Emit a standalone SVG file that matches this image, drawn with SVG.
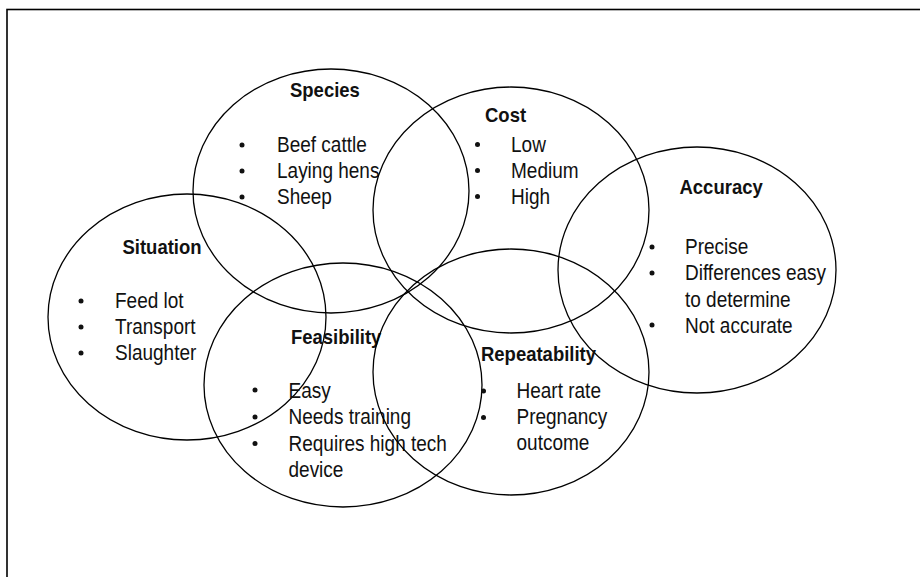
<svg xmlns="http://www.w3.org/2000/svg" width="920" height="577" viewBox="0 0 920 577">
<style>
.c{fill:none;stroke:#000;stroke-width:1.3}
.t{font-family:"Liberation Sans",Arial,sans-serif;font-size:19px;fill:#111}
.h{font-family:"Liberation Sans",Arial,sans-serif;font-size:18.5px;font-weight:bold;fill:#111}
.b{fill:#111}
</style>
<rect x="0" y="0" width="920" height="577" fill="#fff"/>
<rect x="7" y="9.5" width="1000" height="1000" fill="none" stroke="#000" stroke-width="1.6"/>
<g id="species">
<ellipse class="c" cx="331" cy="191" rx="138" ry="122"/>
<text class="h" transform="translate(290,97) scale(1,1.13)">Species</text>
<circle class="b" cx="242" cy="145" r="2.5"/><circle class="b" cx="242" cy="171" r="2.5"/><circle class="b" cx="242" cy="197" r="2.5"/>
<text class="t" transform="translate(277,152) scale(1,1.13)">Beef cattle</text>
<text class="t" transform="translate(277,178) scale(1,1.13)">Laying hens</text>
<text class="t" transform="translate(277,204) scale(1,1.13)">Sheep</text>
</g>
<g id="cost">
<ellipse class="c" cx="511" cy="210" rx="138" ry="123"/>
<text class="h" transform="translate(485,121.5) scale(1,1.13)">Cost</text>
<circle class="b" cx="477.5" cy="144.5" r="2.5"/><circle class="b" cx="477.5" cy="170.5" r="2.5"/><circle class="b" cx="477.5" cy="196.5" r="2.5"/>
<text class="t" transform="translate(511,151.5) scale(1,1.13)">Low</text>
<text class="t" transform="translate(511,178) scale(1,1.13)">Medium</text>
<text class="t" transform="translate(511,204) scale(1,1.13)">High</text>
</g>
<g id="accuracy">
<ellipse class="c" cx="697" cy="270" rx="139" ry="123"/>
<text class="h" transform="translate(679.5,194) scale(1,1.13)">Accuracy</text>
<circle class="b" cx="652" cy="247" r="2.5"/><circle class="b" cx="652" cy="273" r="2.5"/><circle class="b" cx="652" cy="325" r="2.5"/>
<text class="t" transform="translate(685,253.5) scale(1,1.13)">Precise</text>
<text class="t" transform="translate(685,280) scale(1,1.13)">Differences easy</text>
<text class="t" transform="translate(685,306.5) scale(1,1.13)">to determine</text>
<text class="t" transform="translate(685,332.5) scale(1,1.13)">Not accurate</text>
</g>
<g id="situation">
<ellipse class="c" cx="187" cy="317" rx="139" ry="123"/>
<text class="h" transform="translate(122.5,253.5) scale(1,1.13)">Situation</text>
<circle class="b" cx="81" cy="301" r="2.5"/><circle class="b" cx="81" cy="327" r="2.5"/><circle class="b" cx="81" cy="353" r="2.5"/>
<text class="t" transform="translate(115,308) scale(1,1.13)">Feed lot</text>
<text class="t" transform="translate(115,334) scale(1,1.13)">Transport</text>
<text class="t" transform="translate(115,360) scale(1,1.13)">Slaughter</text>
</g>
<g id="feasibility">
<ellipse class="c" cx="343" cy="385" rx="139" ry="122"/>
<text class="h" transform="translate(291,343.5) scale(1,1.13)">Feasibility</text>
<circle class="b" cx="255" cy="390" r="2.5"/><circle class="b" cx="255" cy="417" r="2.5"/><circle class="b" cx="255" cy="443.5" r="2.5"/>
<text class="t" transform="translate(288.5,397.5) scale(1,1.13)">Easy</text>
<text class="t" transform="translate(288.5,424) scale(1,1.13)">Needs training</text>
<text class="t" transform="translate(288.5,450.5) scale(1,1.13)">Requires high tech</text>
<text class="t" transform="translate(288.5,476.5) scale(1,1.13)">device</text>
</g>
<g id="repeatability">
<ellipse class="c" cx="511" cy="372" rx="138" ry="123"/>
<text class="h" transform="translate(481,360.5) scale(1,1.13)">Repeatability</text>
<circle class="b" cx="483.5" cy="391" r="2.5"/><circle class="b" cx="483.5" cy="417.5" r="2.5"/>
<text class="t" transform="translate(516.5,397.5) scale(1,1.13)">Heart rate</text>
<text class="t" transform="translate(516.5,423.5) scale(1,1.13)">Pregnancy</text>
<text class="t" transform="translate(516.5,450) scale(1,1.13)">outcome</text>
</g>
</svg>
